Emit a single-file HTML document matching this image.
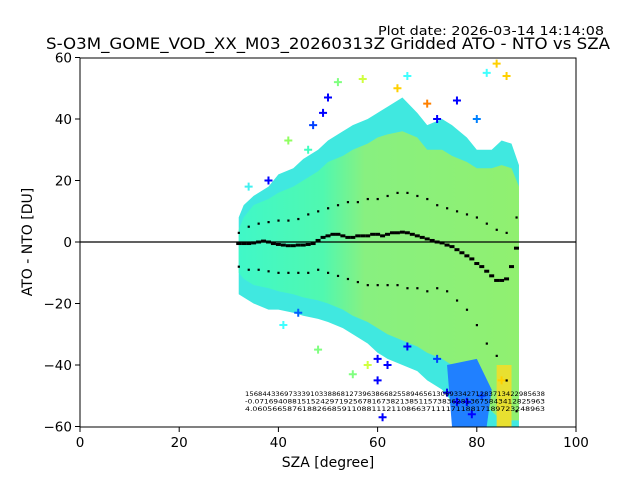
<!DOCTYPE html>
<html><head><meta charset="utf-8"><style>
body{margin:0;background:#fff}
svg{display:block;font-family:"DejaVu Sans","Liberation Sans",sans-serif}
</style></head><body>
<svg id="chart" width="640" height="480" viewBox="0 0 640 480" xmlns="http://www.w3.org/2000/svg">
<defs>
<linearGradient id="coreGrad" x1="0" x2="1" y1="0" y2="0">
<stop offset="0" stop-color="#40f8c8"/><stop offset="0.3" stop-color="#50f8b0"/><stop offset="0.45" stop-color="#88f080"/><stop offset="1" stop-color="#90f070"/>
</linearGradient>
</defs>
<g id="plot"></g>
<rect x="80" y="58" width="496" height="369" fill="none" stroke="#000" stroke-width="1"/>
<g id="axes"></g>
<text x="378" y="35" font-size="12.5" textLength="226" lengthAdjust="spacingAndGlyphs">Plot date: 2026-03-14 14:14:08</text>
<text x="46" y="49" font-size="16" textLength="564" lengthAdjust="spacingAndGlyphs">S-O3M_GOME_VOD_XX_M03_20260313Z Gridded ATO - NTO vs SZA</text>
<text x="328" y="467" font-size="14" text-anchor="middle">SZA [degree]</text>
<text x="0" y="0" font-size="14" text-anchor="middle" transform="translate(32,242) rotate(-90)">ATO - NTO [DU]</text>
</svg>
<script>
const envSza   = [32,33,35,38,40,43,45,48,50,53,55,58,60,62,65,68,70,73,75,78,80,83,85,87,88.5];
const envUpper = [8,12,15,18,22,24,27,30,33,36,38,40,42,44,47,42,38,40,38,34,30,30,33,32,25];
const envLower = [-17,-18,-20,-22,-22,-23,-24,-25,-26,-28,-30,-33,-36,-38,-40,-42,-45,-48,-52,-58,-60,-60,-60,-60,-60];
const coreUpper= [4,8,12,14,16,18,20,23,26,28,30,32,34,35,36,34,30,30,28,26,24,24,25,24,18];
const coreLower= [-10,-12,-14,-15,-16,-17,-18,-19,-20,-22,-24,-26,-28,-30,-32,-34,-36,-38,-40,-45,-50,-55,-58,-58,-58];
const meanSza  = [32,33,34,35,36,37,38,39,40,41,42,43,44,45,46,47,48,49,50,51,52,53,54,55,56,57,58,59,60,61,62,63,64,65,66,67,68,69,70,71,72,73,74,75,76,77,78,79,80,81,82,83,84,85,86,87,88];
const meanVal  = [-0.5,-0.5,-0.5,-0.3,0,0.3,0,-0.5,-0.8,-1,-1.2,-1.2,-1,-1,-0.8,-0.5,0.5,1.5,2,2.5,2.5,2,1.5,1.5,2,2,2,2.5,2.5,2,2.5,3,3,3.2,3,2.5,2,1.5,1,0.5,0,-0.3,-1,-1.5,-2.5,-3.5,-4.5,-5.5,-7,-8,-9.5,-11,-12.5,-12.5,-12,-8,-2];
const stdSza   = [32,34,36,38,40,42,44,46,48,50,52,54,56,58,60,62,64,66,68,70,72,74,76,78,80,82,84,86,88];
const stdUpper = [3,5,6,6.5,7,7,7.5,9,10,11,12,13,13,14,14,15,16,16,15,14,12,11,10,9,8,6,4,3,8];
const stdLower = [-8,-9,-9,-9.5,-10,-10,-10,-10,-9,-10,-11,-12,-13,-14,-14,-14,-14,-15,-15,-16,-15,-16,-19,-22,-27,-33,-37,-45,-55];
const outSza   = [34,38,42,46,47,49,50,52,57,60,62,64,66,70,72,74,76,78,80,82,84,86,48,55,60,61,66,72,76,79,81,85,41,44,58];
const outVal   = [18,20,33,30,38,42,47,52,53,-38,-40,50,54,45,40,-49,46,-52,40,55,58,54,-35,-43,-45,-57,-34,-38,-52,-56,-50,-45,-27,-23,-40];
const outCol   = ["#40f0f0","#0000ff","#90ff60","#40ffc0","#0040ff","#0000ff","#0000ff","#80ff80","#d0ff40","#0000ff","#0000ff","#ffd000","#40ffff","#ff8000","#0000ff","#0000ff","#0000ff","#0000ff","#0080ff","#40ffff","#ffd000","#ffd000","#80ff80","#80ff80","#0000ff","#0000ff","#0000ff","#0040ff","#0000ff","#0000ff","#0040ff","#ffd000","#40ffff","#0060ff","#d0ff40"];
const xTicks   = [0,20,40,60,80,100];
const yTicks   = [-60,-40,-20,0,20,40,60];
const statRows = ["156844336973339103388681273963866825589465613069334271283713422985638","-0.07169408815152429719256781673821385115738362813675843412825963","4.06056658761882668591108811121108663711117118817189723248963"];

const NS="http://www.w3.org/2000/svg";
const X=v=>80+v*4.96, Y=v=>242-v*3.075;
const plot=document.getElementById('plot'), axes=document.getElementById('axes');
function mk(p,tag,at){const e=document.createElementNS(NS,tag);for(const k in at)e.setAttribute(k,at[k]);p.appendChild(e);return e;}
function band(up,lo,fill,name){
  let d=envSza.map((s,i)=>(i?'L':'M')+X(s)+','+Y(up[i])).join(' ');
  for(let i=envSza.length-1;i>=0;i--)d+=' L'+X(envSza[i])+','+Y(lo[i]);
  const e=mk(plot,'path',{d:d+'Z',fill:fill});
  
  
}
band(envUpper,envLower,'#40e8e0','scatter-envelope');
band(coreUpper,coreLower,'url(#coreGrad)','scatter-core');
{const e=mk(plot,'path',{d:`M${X(74)},${Y(-40)} L${X(80)},${Y(-38)} L${X(83)},${Y(-48)} L${X(82)},${Y(-60)} L${X(75)},${Y(-60)} Z`,fill:'#2080ff'});

}
{const e=mk(plot,'path',{d:`M${X(84)},${Y(-40)} L${X(87)},${Y(-40)} L${X(87)},${Y(-60)} L${X(84)},${Y(-60)} Z`,fill:'#e8e030'});

}
outSza.forEach((s,i)=>{
  const x=X(s),y=Y(outVal[i]);
  const e=mk(plot,'path',{d:`M${x-4},${y}H${x+4}M${x},${y-4}V${y+4}`,stroke:outCol[i],'stroke-width':2});
  
  
});
{const e=mk(plot,'path',{d:'M0,0H640V58H0Z M0,427H640V480H0Z',fill:'#fff'});

}
{const e=mk(plot,'line',{x1:80,x2:576,y1:Y(0),y2:Y(0),stroke:'#000','stroke-width':1.3});

}
meanSza.forEach((s,i)=>{
  const e=mk(plot,'rect',{x:X(s)-2.5,y:Y(meanVal[i])-1.5,width:5,height:3,fill:'#000'});
  
  
});
stdSza.forEach((s,i)=>{
  [stdUpper[i],stdLower[i]].forEach(v=>{
    const e=mk(plot,'rect',{x:X(s)-1,y:Y(v)-1,width:2.2,height:2.2,fill:'#000'});
    
    
  });
});
statRows.forEach((r,i)=>{
  const e=mk(plot,'text',{x:395,y:396+i*7.5,'font-size':6.5,'text-anchor':'middle',fill:'#000',textLength:300,lengthAdjust:'spacingAndGlyphs'});
  e.textContent=r;
  
  
});
xTicks.forEach(t=>{
  const x=X(t);
  const l=mk(axes,'line',{x1:x,x2:x,y1:427,y2:432,stroke:'#000'});
  
  
  const tx=mk(axes,'text',{x:x,y:447,'font-size':13.5,'text-anchor':'middle'});
  tx.textContent=t;
  
  
});
yTicks.forEach(t=>{
  const y=Y(t);
  const l=mk(axes,'line',{x1:75,x2:80,y1:y,y2:y,stroke:'#000'});
  
  
  const tx=mk(axes,'text',{x:72,y:y+5,'font-size':13.5,'text-anchor':'end'});
  tx.textContent=(t<0?'\u2212'+(-t):t);
  
  
});
</script>
</body></html>
